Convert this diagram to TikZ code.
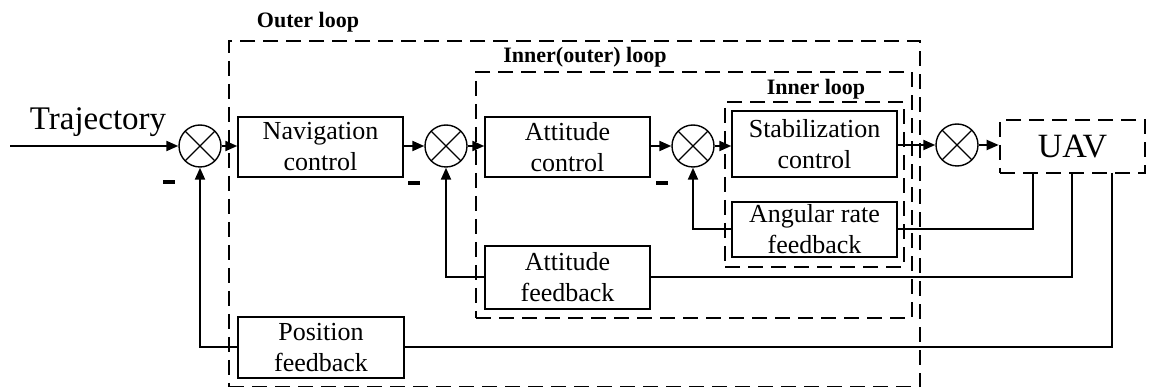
\documentclass[tikz,border=0pt]{standalone}
\usepackage{fontspec}
\setmainfont{Liberation Serif}
\usetikzlibrary{arrows.meta,calc}
\begin{document}
\begin{tikzpicture}[x=1pt,y=-1pt,
  blk/.style={draw,line width=1.4pt,minimum width=165pt,inner sep=0pt,align=center,font=\fontsize{26}{31}\selectfont},
  sumc/.style={circle,draw,line width=1.4pt,minimum size=42pt,inner sep=0pt,
    path picture={
      \draw[line width=1.2pt] (path picture bounding box.center) ++(45:21pt) -- ++(225:42pt);
      \draw[line width=1.2pt] (path picture bounding box.center) ++(135:21pt) -- ++(-45:42pt);}},
  dbox/.style={draw,dash pattern=on 15pt off 8pt,line width=2.6pt,inner sep=0pt},
  sig/.style={line width=2pt,-{Triangle[length=12pt,width=10pt]}},
  wire/.style={line width=2pt},
  lbl/.style={font=\bfseries\fontsize{22}{26}\selectfont,anchor=base,inner sep=0pt},
  minus/.style={inner sep=0pt}
]
\useasboundingbox (0,0) rectangle (1152,387);

% dashed loop boxes
\node[dbox,minimum width=691pt,minimum height=346pt] (outer) at (574.5,214) {};
\node[dbox,minimum width=436pt,minimum height=246pt] (mid) at (694,195) {};
\node[dbox,minimum width=179pt,minimum height=165pt] (inner) at (814.5,184.5) {};
\node[dbox,minimum width=145pt,minimum height=53pt,font=\fontsize{34}{40}\selectfont] (uav) at (1072.5,146.5) {UAV};

% loop labels
\node[lbl] (louter) at (308,28) {Outer loop};
\node[lbl] (lmid) at (585,63) {Inner(outer) loop};
\node[lbl] (linner) at (816,95) {Inner loop};

% input label
\node[anchor=base,inner sep=0pt,font=\fontsize{33}{38}\selectfont] (traj) at (98,130) {Trajectory};

% summing junctions
\node[sumc] (c1) at (200,146) {};
\node[sumc] (c2) at (446,146) {};
\node[sumc] (c3) at (693,146) {};
\node[sumc] (c4) at (957,145) {};

% blocks
\node[blk,minimum height=60pt] (nav) at (320.5,147) {Navigation\\control};
\node[blk,minimum height=60pt] (att) at (567.5,147) {Attitude\\control};
\node[blk,minimum height=66pt] (stab) at (814.5,144) {Stabilization\\control};
\node[blk,minimum height=55pt] (ang) at (814.5,229.5) {Angular rate\\feedback};
\node[blk,minimum height=63pt] (attfb) at (567.5,277.5) {Attitude\\feedback};
\node[blk,minimum height=61pt,minimum width=166pt] (posfb) at (321,347.5) {Position\\feedback};

% minus signs
\node[minus] (m1) at (169,182) {\rule{12pt}{4pt}};
\node[minus] (m2) at (414,183) {\rule{12pt}{4pt}};
\node[minus] (m3) at (662,183) {\rule{12pt}{4pt}};

% forward path
\coordinate (in) at (10,146);
\draw[sig] (in) -- (c1.west);
\draw[sig] (c1.east) -- (c1.east -| nav.west);
\draw[sig] (c2.west -| nav.east) -- (c2.west);
\draw[sig] (c2.east) -- (c2.east -| att.west);
\draw[sig] (c3.west -| att.east) -- (c3.west);
\draw[sig] (c3.east) -- (c3.east -| stab.west);
\draw[sig] (c4.west -| stab.east) -- (c4.west);
\draw[sig] (c4.east) -- (c4.east -| uav.west);

% feedback taps
\coordinate (u1) at (1033,173);
\coordinate (u2) at (1072,173);
\coordinate (u3) at (1112,173);
\draw[wire] (u1) |- (ang.east);
\draw[sig] (ang.west) -| (c3.south);
\draw[wire] (u2) |- (attfb.east);
\draw[sig] (attfb.west) -| (c2.south);
\draw[wire] (u3) |- (posfb.east);
\draw[sig] (posfb.west) -| (c1.south);
\end{tikzpicture}
\end{document}
